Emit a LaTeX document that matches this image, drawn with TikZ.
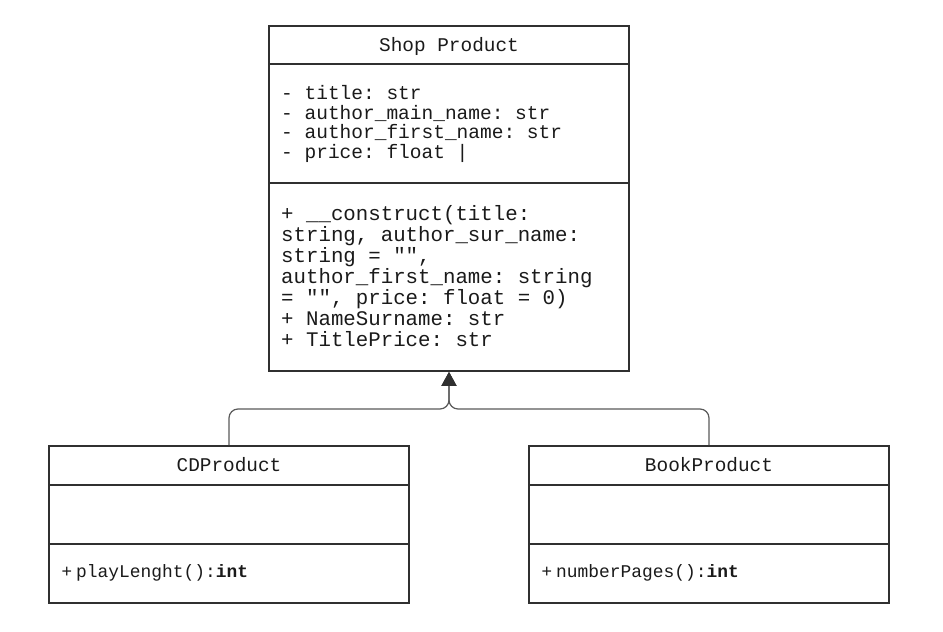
\documentclass[tikz,border=0pt]{standalone}
\usepackage{fontspec}
\setmonofont{Liberation Mono}
\setsansfont{Liberation Sans}
\usetikzlibrary{arrows.meta}
\definecolor{boxc}{HTML}{303030}
\definecolor{txtc}{HTML}{1A1A1A}
\definecolor{connc}{HTML}{5A5A5A}
\tikzset{
  cls/.style={draw=boxc, line width=1.8pt, minimum width=360pt, inner sep=0pt, fill=white},
  divline/.style={draw=boxc, line width=1.8pt},
  ttl/.style={anchor=base, inner sep=0pt, text=txtc, font=\fontsize{19.4}{20}\selectfont\ttfamily},
  attr/.style={anchor=base west, inner sep=0pt, text=txtc, font=\fontsize{19.5}{20}\selectfont\ttfamily},
  meth/.style={anchor=base west, inner sep=0pt, text=txtc, font=\fontsize{20.75}{21}\selectfont\ttfamily},
  smeth/.style={anchor=base west, inner sep=0pt, text=txtc, font=\fontsize{17.9}{18}\selectfont\ttfamily},
  conn/.style={draw=connc, line width=1.2pt, rounded corners=9pt,
    -{Triangle[length=14pt,width=15pt,fill=boxc,color=boxc]}},
}
\begin{document}
\begin{tikzpicture}[x=1pt,y=-1pt]
\useasboundingbox[fill=white] (0,0) rectangle (943,632);
% classes
\node[cls, minimum height=345pt] (shop) at (449,198.5) {};
\node[cls, minimum height=157pt] (cd) at (229,524.5) {};
\node[cls, minimum height=157pt] (book) at (709,524.5) {};
% dividers
\draw[divline] (shop.west |- 0,64) -- (shop.east |- 0,64);
\draw[divline] (shop.west |- 0,183) -- (shop.east |- 0,183);
\draw[divline] (cd.west |- 0,485) -- (cd.east |- 0,485);
\draw[divline] (cd.west |- 0,544) -- (cd.east |- 0,544);
\draw[divline] (book.west |- 0,485) -- (book.east |- 0,485);
\draw[divline] (book.west |- 0,544) -- (book.east |- 0,544);
% Shop Product texts
\node[ttl] (shopname) at (449,51.7) {Shop Product};
\node[attr] (a1) at (281,99.3) {- title: str};
\node[attr] (a2) at (281,119.1) {- author\_main\_name: str};
\node[attr] (a3) at (281,138.7) {- author\_first\_name: str};
\node[attr] (a4) at (281,158.3) {- price: float |};
\node[meth] (m1) at (281,220) {+ \_\_construct(title:};
\node[meth] (m2) at (281,241.1) {string, author\_sur\_name:};
\node[meth] (m3) at (281,262.2) {string = "",};
\node[meth] (m4) at (281,283.3) {author\_first\_name: string};
\node[meth] (m5) at (281,304.4) {= "", price: float = 0)};
\node[meth] (m6) at (281,325.5) {+ NameSurname: str};
\node[meth] (m7) at (281,346.6) {+ TitlePrice: str};
% CD Product
\node[ttl] (cdname) at (229,471.7) {CDProduct};
\node[smeth] (cdm) at (61.5,577.7) {{\sffamily +}\hspace{4pt}playLenght():\textbf{int}};
% Book Product
\node[ttl] (bookname) at (709,471.7) {BookProduct};
\node[smeth] (bookm) at (541.5,577.7) {{\sffamily +}\hspace{4pt}numberPages():\textbf{int}};
% inheritance connectors
\coordinate (j) at (449,409);
\draw[conn] (cd.north) |- (j) -- (shop.south);
\draw[conn] (book.north) |- (j) -- (shop.south);
\end{tikzpicture}
\end{document}
